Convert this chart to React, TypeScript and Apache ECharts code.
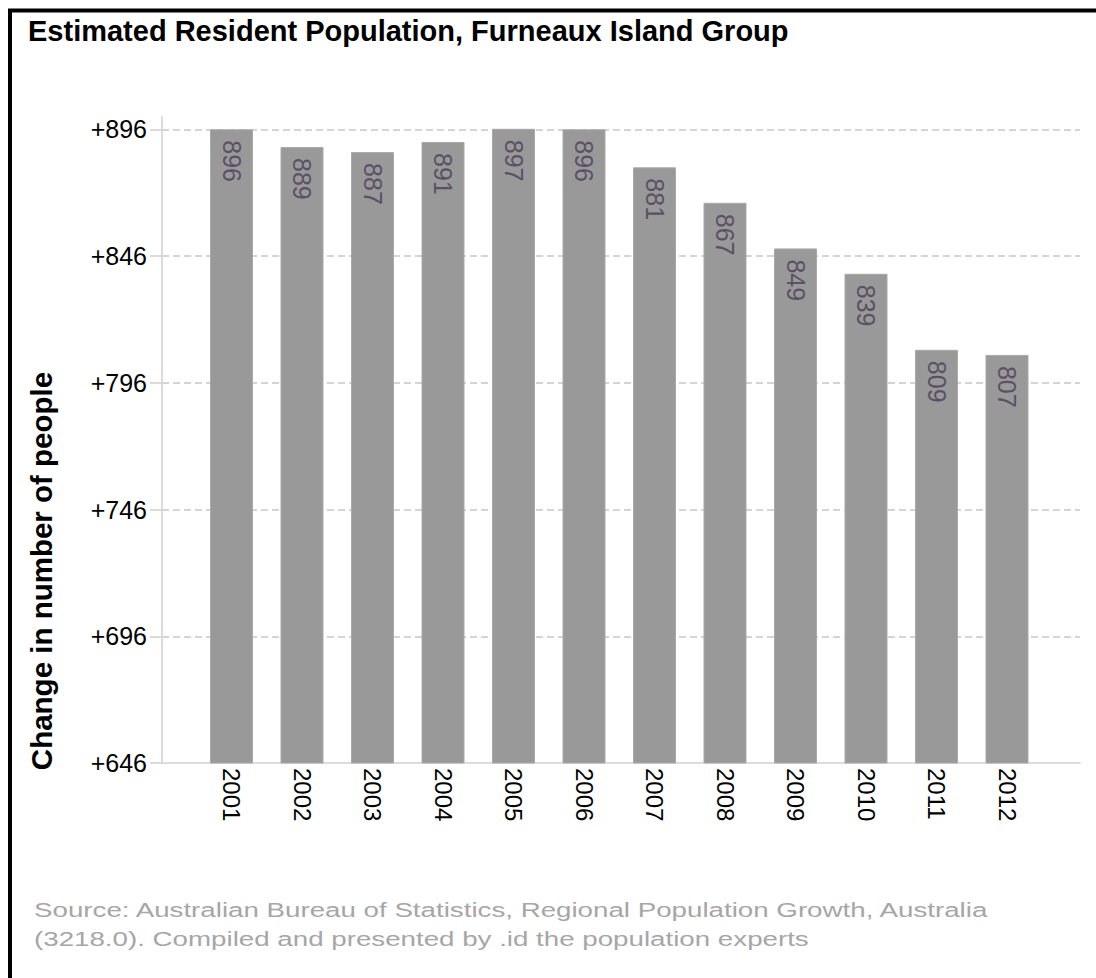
import React, { useEffect, useRef } from "react";
import * as echarts from "echarts";

const years = ["2001", "2002", "2003", "2004", "2005", "2006", "2007", "2008", "2009", "2010", "2011", "2012"];
const population = [896, 889, 887, 891, 897, 896, 881, 867, 849, 839, 809, 807];
const yMin = 646;
const yMax = 896;
const yStep = 50;
const titleText = "Estimated Resident Population, Furneaux Island Group";
const yAxisTitle = "Change in number of people";
const sourceLines = [
  "Source: Australian Bureau of Statistics, Regional Population Growth, Australia",
  "(3218.0). Compiled and presented by .id the population experts",
];

const FONT = "'Liberation Sans', Arial, sans-serif";

export default function App() {
  const ref = useRef<HTMLDivElement>(null);
  useEffect(() => {
    if (!ref.current) return;
    const chart = echarts.init(ref.current, null, { renderer: "svg" });
    const option: any = {
      animation: false,
      backgroundColor: "#ffffff",
      title: {
        text: titleText,
        left: 28,
        top: 16,
        padding: 0,
        textStyle: { fontFamily: FONT, fontSize: 29, fontWeight: "bold", color: "#000000" },
      },
      grid: [
        { left: 162, right: 16, top: 129.3, bottom: 215 },
        { left: 162, right: 16, top: 117, bottom: 215 },
        { left: 196.25, right: 53.75, top: 129.3, bottom: 215 },
      ],
      xAxis: [
        {
          gridIndex: 0,
          type: "value",
          min: 0,
          max: 1,
          axisLine: { show: true, onZero: false, lineStyle: { color: "#dcdcdc", width: 2 } },
          axisTick: { show: false },
          axisLabel: { show: false },
          splitLine: { show: false },
        },
        {
          gridIndex: 1,
          type: "value",
          show: false,
        },
        {
          gridIndex: 2,
          type: "category",
          data: years,
          axisLine: { show: false },
          axisTick: { show: false },
          axisLabel: {
            rotate: -90,
            margin: 5,
            fontFamily: FONT,
            fontSize: 24,
            color: "#000000",
          },
        },
      ],
      yAxis: [
        {
          gridIndex: 0,
          type: "value",
          min: yMin,
          max: yMax,
          interval: yStep,
          axisLine: { show: false },
          axisTick: { show: true, length: 12, lineStyle: { color: "#cfcfcf", width: 1.5 } },
          axisLabel: {
            margin: 15,
            fontFamily: FONT,
            fontSize: 25,
            color: "#000000",
            formatter: (v: number) => "+" + v,
          },
          splitLine: {
            show: true,
            showMinLine: false,
            lineStyle: { color: "#c8c8c8", width: 1.5, type: [7, 4] },
          },
        },
        {
          gridIndex: 1,
          type: "value",
          min: 0,
          max: 1,
          axisLine: { show: true, lineStyle: { color: "#dcdcdc", width: 2 } },
          axisTick: { show: false },
          axisLabel: { show: false },
          splitLine: { show: false },
        },
        {
          gridIndex: 2,
          type: "value",
          min: yMin,
          max: yMax,
          interval: yStep,
          show: false,
          splitLine: { show: false },
        },
      ],
      series: [
        {
          type: "bar",
          xAxisIndex: 2,
          yAxisIndex: 2,
          data: population,
          barWidth: 43,
          itemStyle: { color: "#999999", borderColor: "#a9a9a9", borderWidth: 1 },
          label: {
            show: true,
            position: "insideTop",
            distance: 11,
            rotate: -90,
            align: "left",
            verticalAlign: "middle",
            fontFamily: FONT,
            fontSize: 25,
            color: "#5b5166",
            formatter: "{c}",
          },
        },
      ],
      graphic: [
        {
          type: "rect",
          silent: true,
          shape: { x: 10, y: 10.5, width: 2000, height: 2000 },
          style: { fill: "none", stroke: "#000000", lineWidth: 4 },
        },
        {
          type: "text",
          x: 41.5,
          y: 571,
          rotation: Math.PI / 2,
          style: {
            text: yAxisTitle,
            font: "bold 29.5px " + FONT,
            fill: "#000000",
            align: "center",
            verticalAlign: "middle",
          },
        },
        {
          type: "text",
          x: 34,
          y: 910,
          scaleX: 1.32,
          style: {
            text: sourceLines[0],
            font: "21px " + FONT,
            fill: "#a6a6a6",
            align: "left",
            verticalAlign: "middle",
          },
        },
        {
          type: "text",
          x: 34,
          y: 939,
          scaleX: 1.32,
          style: {
            text: sourceLines[1],
            font: "21px " + FONT,
            fill: "#a6a6a6",
            align: "left",
            verticalAlign: "middle",
          },
        },
      ],
    };
    chart.setOption(option);
    return () => chart.dispose();
  }, []);
  return (
    <div
      ref={ref}
      style={{ position: "absolute", left: 0, top: 0, width: 1096, height: 978 }}
    />
  );
}
